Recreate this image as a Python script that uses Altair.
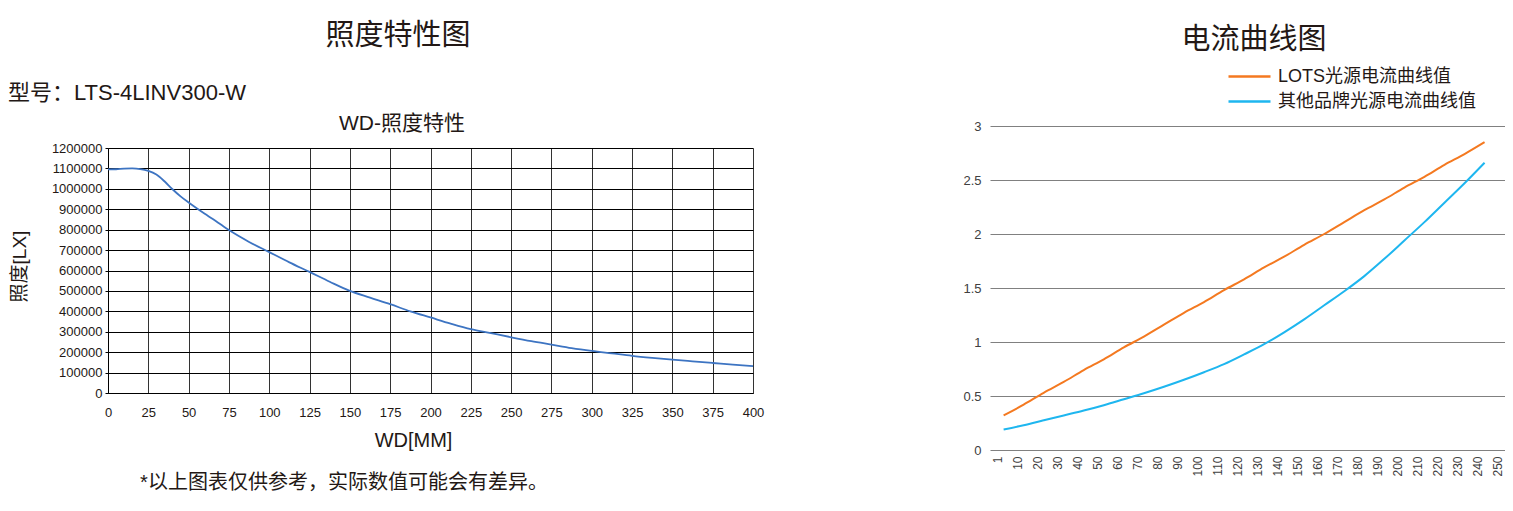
import altair as alt
import pandas as pd

FONT = "Liberation Sans, Noto Sans CJK SC"
TEXT = "#231815"
AXIS_TEXT = "#404040"
LEFT_LINE = "#3d74c2"
ORANGE = "#f47920"
BLUE = "#1eb6ef"

# ---------- left chart: WD vs illuminance ----------
LEFT_TITLE = "照度特性图"
MODEL_TEXT = "型号：LTS-4LINV300-W"
LEFT_SUBTITLE = "WD-照度特性"
LEFT_X_TITLE = "WD[MM]"
LEFT_Y_TITLE = "照度[LX]"
FOOTNOTE = "*以上图表仅供参考，实际数值可能会有差异。"

wd = [0, 5, 10, 15, 20, 25, 30, 35, 40, 45, 50, 55, 60, 65, 70, 75,
      87.5, 100, 112.5, 125, 137.5, 150, 162.5, 175, 187.5, 200, 212.5, 225,
      237.5, 250, 262.5, 275, 287.5, 300, 312.5, 325, 337.5, 350, 362.5, 375,
      387.5, 400]
lux = [1095000, 1096000, 1099000, 1100000, 1097000, 1088000, 1070000, 1037000,
       998000, 963000, 933000, 905000, 878000, 852000, 825000, 798000,
       740000, 690000, 640000, 593000, 545000, 500000, 467000, 435000,
       400000, 370000, 340000, 313000, 293000, 273000, 254000, 237000,
       220000, 206000, 194000, 182000, 172000, 163000, 155000, 147000,
       139000, 132000]
left_x_ticks = list(range(0, 401, 25))
left_y_ticks = list(range(0, 1200001, 100000))

# ---------- right chart: current curves ----------
RIGHT_TITLE = "电流曲线图"
SERIES_LOTS = "LOTS光源电流曲线值"
SERIES_OTHER = "其他品牌光源电流曲线值"
categories = ["1", "10", "20", "30", "40", "50", "60", "70", "80", "90", "100",
              "110", "120", "130", "140", "150", "160", "170", "180", "190",
              "200", "210", "220", "230", "240", "250"]
lots_values = [0.32, 0.42, 0.53, 0.63, 0.74, 0.84, 0.95, 1.05, 1.16, 1.27,
               1.37, 1.48, 1.58, 1.69, 1.79, 1.90, 2.00, 2.11, 2.22, 2.32,
               2.43, 2.53, 2.64, 2.74, 2.85]
other_values = [0.19, 0.23, 0.275, 0.32, 0.365, 0.415, 0.47, 0.525, 0.585, 0.65,
                0.72, 0.795, 0.885, 0.98, 1.09, 1.21, 1.34, 1.47, 1.61, 1.77,
                1.94, 2.11, 2.29, 2.47, 2.66]
right_y_ticks = [0, 0.5, 1, 1.5, 2, 2.5, 3]


def text_layer(s, x, y, size, align="center"):
    return alt.Chart(pd.DataFrame({"t": [s]})).mark_text(
        font=FONT, fontSize=size, color=TEXT, align=align, baseline="middle"
    ).encode(x=alt.value(x), y=alt.value(y), text="t:N")


def anchor(x, y):
    return alt.Chart(pd.DataFrame({"a": [0]})).mark_rule(strokeOpacity=0).encode(
        x=alt.value(x), x2=alt.value(x + 1), y=alt.value(y), y2=alt.value(y)
    )


LW, LH = 645, 245
left_df = pd.DataFrame({"wd": wd, "lux": lux})
left_line = alt.Chart(left_df).mark_line(
    color=LEFT_LINE, strokeWidth=1.8, interpolate="monotone"
).encode(
    x=alt.X("wd:Q", scale=alt.Scale(domain=[0, 400], nice=False, zero=False),
            axis=alt.Axis(values=left_x_ticks, title=LEFT_X_TITLE, titleFontSize=20,
                          titleColor=TEXT, titleX=305, titleY=47,
                          titleBaseline="middle", titleAlign="center",
                          labelFontSize=13, labelColor=TEXT, labelPadding=13,
                          labelFlush=False, labelOverlap=False,
                          ticks=False, domain=True, domainColor="#000",
                          grid=True, gridColor="#333", gridOpacity=1)),
    y=alt.Y("lux:Q", scale=alt.Scale(domain=[0, 1200000], nice=False),
            axis=alt.Axis(values=left_y_ticks, format="d", title=LEFT_Y_TITLE,
                          titleFontSize=19, titleColor=TEXT, titleX=-79, titleY=118,
                          titleAngle=270, titleBaseline="bottom", titleAlign="center",
                          labelFontSize=13, labelColor=TEXT, labelPadding=3,
                          labelOverlap=False, labelFlush=False,
                          ticks=True, tickSize=3, tickColor="#000",
                          domain=True, domainColor="#000",
                          grid=True, gridColor="#000", gridOpacity=1)),
)

left = alt.layer(
    left_line,
    text_layer(LEFT_TITLE, 290, -112, 29),
    text_layer(MODEL_TEXT, -100, -55, 22, align="left"),
    text_layer(LEFT_SUBTITLE, 294, -24, 21),
    text_layer(FOOTNOTE, 236, 335, 20),
    anchor(-100, -140),
    anchor(660, -140),
).properties(width=LW, height=LH)

# right plot: group origin shares the row line with the left plot (page y 148);
# the value 3 sits 22px above it, the value 0 at 302px below it.
RW, RH = 515, 302
right_df = pd.DataFrame({
    "cat": categories[:25] * 2,
    "val": lots_values + other_values,
    "series": [SERIES_LOTS] * 25 + [SERIES_OTHER] * 25,
})
right_line = alt.Chart(right_df).mark_line(
    strokeWidth=2, xOffset=6.6, interpolate="monotone"
).encode(
    x=alt.X("cat:N", sort=categories,
            scale=alt.Scale(type="point", domain=categories, padding=0.35),
            axis=alt.Axis(title=None, labelAngle=270, labelFontSize=12,
                          labelColor=AXIS_TEXT, labelPadding=6, ticks=False,
                          domain=False, grid=False, labelOverlap=False)),
    y=alt.Y("val:Q", scale=alt.Scale(domain=[0, 3], nice=False, range=[RH, -22]),
            axis=alt.Axis(values=right_y_ticks, format="~g", title=None,
                          labelFontSize=13, labelColor=AXIS_TEXT, labelPadding=9,
                          ticks=False, domain=False, grid=True,
                          gridColor="#808080", gridOpacity=1)),
    color=alt.Color("series:N",
                    scale=alt.Scale(domain=[SERIES_LOTS, SERIES_OTHER],
                                    range=[ORANGE, BLUE]),
                    legend=alt.Legend(title=None, orient="none", legendX=250.5,
                                      legendY=-80.5, symbolType="M-3,0H3",
                                      symbolSize=196, symbolStrokeWidth=2.5,
                                      labelFontSize=18, labelColor=TEXT,
                                      labelFont=FONT, labelOffset=19.5,
                                      rowPadding=7, padding=0, labelLimit=400)),
)

right = alt.layer(
    right_line,
    text_layer(RIGHT_TITLE, 264, -108, 29),
    anchor(-38, -140),
).properties(width=RW, height=RH)

chart = alt.concat(left, right, columns=2, spacing=183, align="none").properties(
    padding=0
).resolve_legend(color="independent").configure_view(
    stroke=None
).configure_axis(labelFont=FONT, titleFont=FONT, titleFontWeight="normal")

chart.save("out.html", embed_options={"renderer": "svg", "actions": False})
